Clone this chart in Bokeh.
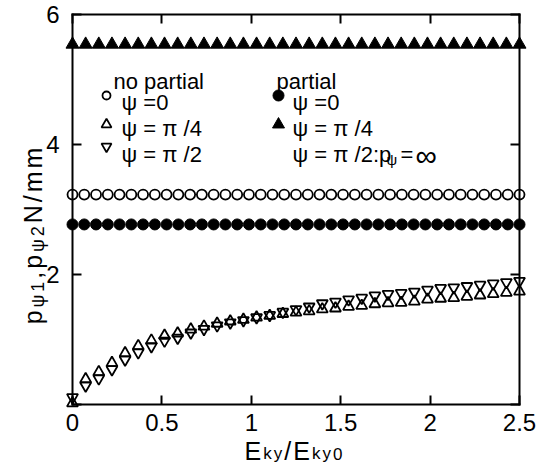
import math
import numpy as np
from bokeh.plotting import figure
from bokeh.models import LinearAxis, FixedTicker, Label, Range1d
from bokeh.embed import file_html
from bokeh.resources import INLINE

# ---------------- data ----------------
x_circ = np.linspace(0, 2.5, 39)          # marker positions of the flat series
p_nopartial_0 = [3.23] * 39                 # open circles
p_partial_0 = [2.77] * 39                   # filled circles
x_tri = np.linspace(0, 2.5, 35)
p_partial_pi4 = [5.54] * 35                 # filled triangles

# no partial, psi = pi/4 (open up-triangles) and psi = pi/2 (open down-triangles)
p_nopartial_pi4 = [0.02, 0.39, 0.50, 0.64, 0.79, 0.90, 0.985, 1.06, 1.095, 1.155,
                   1.20, 1.245, 1.28, 1.305, 1.34, 1.365, 1.395, 1.415, 1.435, 1.465,
                   1.48, 1.505, 1.52, 1.545, 1.56, 1.565, 1.585, 1.615, 1.63, 1.64,
                   1.66, 1.68, 1.70, 1.72, 1.74]
p_nopartial_pi2 = [0.11, 0.29, 0.40, 0.54, 0.69, 0.80, 0.895, 0.98, 1.025, 1.105,
                   1.16, 1.215, 1.26, 1.295, 1.34, 1.375, 1.425, 1.465, 1.505, 1.555,
                   1.58, 1.615, 1.64, 1.675, 1.70, 1.715, 1.735, 1.765, 1.79, 1.80,
                   1.82, 1.84, 1.86, 1.88, 1.90]

x_ticks = [0, 0.5, 1, 1.5, 2, 2.5]
x_tick_labels = ["0", "0.5", "1", "1.5", "2", "2.5"]
y_ticks = [0, 2, 4, 6]
y_tick_labels = ["", "2", "4", "6"]

# ---------------- layout ----------------
W, H = 540, 466                       # canvas size
FL, FR, FT, FB = 72, 519, 14, 404     # axes box edges in canvas pixels
XMIN, XMAX, YMIN, YMAX = 0, 2.5, 0, 6

def dx(px):
    return XMIN + (px - FL) * (XMAX - XMIN) / (FR - FL)

def dy(py):
    return YMIN + (FB - py) * (YMAX - YMIN) / (FB - FT)

FONT = "Liberation Sans"
p = figure(width=W, height=H, output_backend="svg", toolbar_location=None,
           x_range=Range1d(dx(0), dx(W)), y_range=Range1d(dy(H), dy(0)),
           x_axis_location=None, y_axis_location=None)
p.min_border = 0
p.min_border_left = p.min_border_right = p.min_border_top = p.min_border_bottom = 0
p.title.visible = False
p.grid.visible = False
p.outline_line_color = None
p.background_fill_color = "white"
p.border_fill_color = "white"

def make_axis(ticks, labels, show, loc, bounds):
    ax = LinearAxis(ticker=FixedTicker(ticks=ticks), fixed_location=loc, bounds=bounds)
    ax.major_label_overrides = {t: (l if show else "") for t, l in zip(ticks, labels)}
    ax.axis_line_width = 2
    ax.axis_line_cap = "square"
    ax.major_tick_line_width = 2
    ax.major_tick_in = 9
    ax.major_tick_out = 0
    ax.minor_tick_line_color = None
    ax.major_label_text_font = FONT
    ax.major_label_text_font_size = "24px" if show else "0px"
    ax.major_label_text_color = "black"
    return ax

xb = make_axis(x_ticks, x_tick_labels, True, YMIN, (XMIN, XMAX))
xb.major_label_standoff = 9
p.add_layout(xb, "below")
yl = make_axis(y_ticks, y_tick_labels, True, XMIN, (YMIN, YMAX))
yl.major_label_standoff = 13
p.add_layout(yl, "left")
xt = make_axis(x_ticks, x_tick_labels, False, YMAX, (XMIN, XMAX))
p.add_layout(xt, "above")
yr = make_axis(y_ticks, y_tick_labels, False, XMAX, (YMIN, YMAX))
p.add_layout(yr, "right")

# ---------------- data marks ----------------
p.scatter(x_tri, p_partial_pi4, marker="triangle", size=13, color="black")
p.scatter(x_circ, p_nopartial_0, marker="circle", size=10, fill_color="white",
          line_color="black", line_width=1.8)
p.scatter(x_circ, p_partial_0, marker="circle", size=11, color="black")
p.scatter(x_tri, p_nopartial_pi4, marker="triangle", size=11, fill_color=None,
          line_color="black", line_width=1.8)
p.scatter(x_tri, p_nopartial_pi2, marker="inverted_triangle", size=11, fill_color=None,
          line_color="black", line_width=1.8)

# ---------------- text helpers ----------------
WID = {'0': .556, '1': .556, '2': .556, '4': .556, '.': .278, ',': .278, '/': .278,
       ':': .278, '=': .584, 'E': .667, 'N': .722, 'k': .5, 'y': .5, 'p': .556,
       'm': .833, 'ψ': .70, 'π': .58, '∞': .72, ' ': .278, 'n': .556, 'o': .556,
       'a': .556, 'r': .333, 't': .278, 'i': .222, 'l': .222}

def twidth(s, size, sp=0.0):
    return sum(WID.get(c, .556) * size + sp for c in s)

def put(px, py, s, size, angle=0.0):
    p.add_layout(Label(x=dx(px), y=dy(py), text=s, text_font=FONT,
                       text_font_size=f"{size}px", text_color="black",
                       text_align="left", text_baseline="alphabetic", angle=angle))

def run_h(px, py, segs, sp=0.0):
    # segs: (text, size, baseline shift down in px); characters spaced by sp
    for s, size, sh in segs:
        if sp:
            for c in s:
                put(px, py + sh, c, size)
                px += WID.get(c, .556) * size + sp
        else:
            put(px, py + sh, s, size)
            px += twidth(s, size)

def run_v(px, py, segs, sp=0.0):
    # rotated 90 deg ccw: text advances upward, "down" is to the right
    for s, size, sh in segs:
        for c in s:
            put(px + sh, py, c, size, angle=math.pi / 2)
            py -= WID.get(c, .556) * size + sp

# ---------------- legend ----------------
LS = 22
put(113, 81, "no partial", LS)
put(276, 81, "partial", LS)
p.scatter([dx(106)], [dy(95)], marker="circle", size=8, fill_color="white",
          line_color="black", line_width=1.8)
p.scatter([dx(106)], [dy(124)], marker="triangle", size=10, fill_color=None,
          line_color="black", line_width=1.8)
p.scatter([dx(106)], [dy(146)], marker="inverted_triangle", size=10, fill_color=None,
          line_color="black", line_width=1.8)
p.scatter([dx(278)], [dy(95)], marker="circle", size=11, color="black")
p.scatter([dx(278)], [dy(124)], marker="triangle", size=12, color="black")
put(121, 102, "ψ =0", LS)
put(121, 128, "ψ = π /4", LS)
put(121, 154, "ψ = π /2", LS)
put(292, 102, "ψ =0", LS)
put(292, 128, "ψ = π /4", LS)
put(292, 154, "ψ = π /2:p", LS)
put(386, 159, "ψ", 15)
put(400, 154, "=", LS)
put(415, 155, "∞", 30)

# ---------------- axis titles ----------------
TS, SS, SP = 25, 17, 2
segs_x = [("E", TS, 0), ("ky", SS, 3), ("/E", TS, 0), ("ky0", SS, 3)]
wx = sum(twidth(s, z, SP) for s, z, _ in segs_x)
run_h(294 - wx / 2, 450, segs_x, SP)

segs_y = [("p", TS, 0), ("ψ1", SS + 1, 5), (",p", TS, 0), ("ψ2", SS + 1, 5), ("N/mm", TS, 0)]
wy = sum(twidth(s, z, 3) for s, z, _ in segs_y)
run_v(32, 234 + wy / 2, segs_y, 3)

open("out.html", "w").write(file_html(p, INLINE))
